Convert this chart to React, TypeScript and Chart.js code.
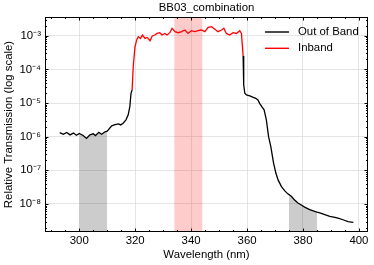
import React, { useEffect, useRef } from 'react';
import { Chart, registerables } from 'chart.js';

Chart.register(...registerables);

// ---- data ----
const lowWavelength = [293.0, 294.3, 295.5, 296.7, 297.9, 299.0, 300.0, 301.4, 302.6, 303.8, 305.0, 305.8, 307.0, 308.0, 309.2, 310.0, 311.6, 312.8, 314.0, 314.8, 315.7, 316.7, 317.5, 318.1, 318.5, 318.9];
const lowTransmission = [1.32e-6, 1.18e-6, 1.34e-6, 1.13e-6, 1.28e-6, 1.1e-6, 1.25e-6, 1.08e-6, 8.9e-7, 1.14e-6, 1.22e-6, 1.08e-6, 1.34e-6, 1.18e-6, 1.4e-6, 1.45e-6, 2.09e-6, 2.29e-6, 2.4e-6, 2.24e-6, 2.51e-6, 3.16e-6, 4.47e-6, 7.94e-6, 1.95e-5, 2.45e-5];

const inbandWavelength = [318.9, 319.3, 319.9, 320.5, 321.1, 321.9, 322.6, 323.5, 324.3, 325.3, 326.1, 327.0, 327.8, 328.8, 329.6, 330.6, 331.4, 332.4, 333.2, 334.2, 335.4, 336.6, 337.8, 338.9, 340.1, 341.3, 342.5, 343.7, 344.9, 346.1, 347.3, 348.5, 349.6, 350.9, 351.7, 352.6, 353.8, 355.0, 356.2, 357.4, 358.0, 358.6];
const inbandTransmission = [2.45e-5, 1.2e-4, 4.5e-4, 7.4e-4, 9.3e-4, 8.3e-4, 1.05e-3, 8.3e-4, 8.9e-4, 7.1e-4, 9.8e-4, 1.05e-3, 1.17e-3, 1.23e-3, 1.05e-3, 1.17e-3, 1.05e-3, 1.23e-3, 1.66e-3, 1.32e-3, 1.23e-3, 1.32e-3, 1.48e-3, 1.17e-3, 1.41e-3, 1.32e-3, 1.41e-3, 1.48e-3, 1.32e-3, 1.78e-3, 1.86e-3, 1.55e-3, 1.32e-3, 1.48e-3, 1.66e-3, 1.17e-3, 1.05e-3, 1.23e-3, 1.17e-3, 1.41e-3, 1.17e-3, 2.5e-4];

const highWavelength = [358.6, 358.8, 359.2, 359.8, 361.0, 362.2, 363.1, 363.9, 364.5, 365.4, 366.1, 366.9, 367.7, 368.5, 368.9, 369.5, 370.3, 371.1, 372.3, 373.5, 374.6, 375.0, 375.9, 377.0, 378.2, 379.4, 380.6, 382.4, 384.2, 385.0, 386.0, 387.8, 389.6, 391.4, 392.5, 394.3, 396.1, 397.3, 398.0];
const highTransmission = [2.5e-4, 3.5e-5, 1.95e-5, 1.74e-5, 1.62e-5, 1.48e-5, 1.38e-5, 1.23e-5, 9.8e-6, 7.6e-6, 6.3e-6, 3.16e-6, 1.0e-6, 5.1e-7, 3.2e-7, 1.62e-7, 8.3e-8, 5.2e-8, 3.3e-8, 2.45e-8, 2.0e-8, 1.9e-8, 1.66e-8, 1.32e-8, 1.07e-8, 9.3e-9, 8.1e-9, 6.8e-9, 6.0e-9, 5.7e-9, 5.4e-9, 4.8e-9, 4.3e-9, 4.0e-9, 3.8e-9, 3.4e-9, 3.0e-9, 2.9e-9, 2.85e-9];

const grayBandStarts = [300, 375];
const grayBandEnds = [310, 385];
const pinkBandStart = 334;
const pinkBandEnd = 344;

const xMajorTicks = [300, 320, 340, 360, 380, 400];
const xMinorStep = 5;
const yMajorTicks = [1e-8, 1e-7, 1e-6, 1e-5, 1e-4, 1e-3];
const yTickLabels = ['10⁻⁸', '10⁻⁷', '10⁻⁶', '10⁻⁵', '10⁻⁴', '10⁻³'];

const titleText = 'BB03_combination';
const xTitle = 'Wavelength (nm)';
const yTitle = 'Relative Transmission (log scale)';
const legendLabels = ['Out of Band', 'Inband'];
const legendColors = ['#000000', '#ff0000'];

const FONT = 'Liberation Sans, Arial, Helvetica, sans-serif';
const FS = 11.4;

const toPoints = (xs: number[], ys: number[]) => xs.map((x, i) => ({ x, y: ys[i] }));

export default function App() {
  const canvasRef = useRef<HTMLCanvasElement | null>(null);

  useEffect(() => {
    if (!canvasRef.current) return;
    const low = toPoints(lowWavelength, lowTransmission);
    const inband = toPoints(inbandWavelength, inbandTransmission);
    const high = toPoints(highWavelength, highTransmission);
    const all = [...low, ...inband, ...high];
    const oob: any[] = [...low, { x: 338, y: null }, ...high];

    const fillSets = grayBandStarts.map((s, i) => ({
      label: 'band' + i,
      data: all.filter((p) => p.x >= s && p.x <= grayBandEnds[i]),
      borderWidth: 0,
      pointRadius: 0,
      backgroundColor: 'rgba(0,0,0,0.2)',
      fill: 'start',
    }));

    const framePlugin = {
      id: 'frame',
      beforeDatasetsDraw(chart: any) {
        const { ctx, chartArea, scales } = chart;
        const x1 = scales.x.getPixelForValue(pinkBandStart);
        const x2 = scales.x.getPixelForValue(pinkBandEnd);
        ctx.save();
        ctx.fillStyle = 'rgba(255,0,0,0.2)';
        ctx.fillRect(x1, chartArea.top, x2 - x1, chartArea.bottom - chartArea.top);
        ctx.restore();
      },
      afterDatasetsDraw(chart: any) {
        const { ctx, chartArea, scales } = chart;
        const { left, right, top, bottom } = chartArea;
        ctx.save();
        ctx.strokeStyle = '#000';
        ctx.lineWidth = 1;
        ctx.strokeRect(left + 0.5, top + 0.5, right - left - 1, bottom - top - 1);
        ctx.beginPath();
        const xs = scales.x;
        for (let v = Math.ceil(xs.min / xMinorStep) * xMinorStep; v <= xs.max; v += xMinorStep) {
          const px = Math.round(xs.getPixelForValue(v)) + 0.5;
          const len = xMajorTicks.includes(v) ? 3.5 : 2;
          ctx.moveTo(px, bottom);
          ctx.lineTo(px, bottom - len);
          ctx.moveTo(px, top);
          ctx.lineTo(px, top + len);
        }
        const ys = scales.y;
        for (let e = -10; e <= -2; e++) {
          for (let m = 1; m <= 9; m++) {
            const v = m * Math.pow(10, e);
            if (v < ys.min || v > ys.max) continue;
            const py = Math.round(ys.getPixelForValue(v)) + 0.5;
            const len = m === 1 ? 3.5 : 2;
            ctx.moveTo(left, py);
            ctx.lineTo(left + len, py);
            ctx.moveTo(right, py);
            ctx.lineTo(right - len, py);
          }
        }
        ctx.stroke();
        ctx.restore();
      },
      afterDraw(chart: any) {
        const { ctx, chartArea } = chart;
        ctx.save();
        ctx.fillStyle = '#000';
        ctx.font = `${FS}px ${FONT}`;
        ctx.textAlign = 'center';
        ctx.textBaseline = 'middle';
        ctx.fillText(titleText, (chartArea.left + chartArea.right) / 2, 8);
        ctx.textAlign = 'left';
        legendLabels.forEach((lab, i) => {
          const y = 32 + i * 16.3;
          ctx.strokeStyle = legendColors[i];
          ctx.lineWidth = 1.4;
          ctx.beginPath();
          ctx.moveTo(265, y);
          ctx.lineTo(289, y);
          ctx.stroke();
          ctx.fillText(lab, 298, y);
        });
        ctx.restore();
      },
    };

    const chart = new Chart(canvasRef.current, {
      type: 'line',
      data: {
        datasets: [
          { label: legendLabels[1], data: inband, borderColor: '#ff0000', borderWidth: 1.3, pointRadius: 0, fill: false, tension: 0 },
          { label: legendLabels[0], data: oob, borderColor: '#000000', borderWidth: 1.3, pointRadius: 0, fill: false, spanGaps: false, tension: 0 },
          ...fillSets,
        ] as any,
      },
      options: {
        animation: false,
        responsive: false,
        maintainAspectRatio: false,
        parsing: false as any,
        layout: { padding: { top: 17, right: 6, left: 0, bottom: 0 } },
        plugins: { legend: { display: false }, title: { display: false }, tooltip: { enabled: false } },
        scales: {
          x: {
            type: 'linear',
            min: 287.75,
            max: 403.25,
            afterBuildTicks: (s: any) => { s.ticks = xMajorTicks.map((v) => ({ value: v })); },
            afterFit: (s: any) => { s.height = 33; },
            ticks: { autoSkip: false, maxRotation: 0, padding: 2, color: '#000', font: { family: FONT, size: FS }, callback: (v: any) => String(v) },
            grid: { color: '#dedede', lineWidth: 0.8, drawTicks: false },
            border: { display: false },
            title: { display: true, text: xTitle, color: '#000', font: { family: FONT, size: FS }, padding: { top: 0, bottom: 3 } },
          },
          y: {
            type: 'logarithmic',
            min: 1.47e-9,
            max: 3.6e-3,
            afterBuildTicks: (s: any) => { s.ticks = yMajorTicks.map((v) => ({ value: v })); },
            afterFit: (s: any) => { s.width = 45; },
            ticks: { autoSkip: false, padding: 4, color: '#000', font: { family: FONT, size: FS }, callback: (_v: any, i: number) => yTickLabels[i] },
            grid: { color: '#dedede', lineWidth: 0.8, drawTicks: false },
            border: { display: false },
            title: { display: true, text: yTitle, color: '#000', font: { family: FONT, size: FS }, padding: { top: 2, bottom: 0 } },
          },
        },
      } as any,
      plugins: [framePlugin],
    });
    return () => chart.destroy();
  }, []);

  return (
    <div style={{ position: 'absolute', left: 0, top: 0, width: 374, height: 265 }}>
      <canvas ref={canvasRef} width={374} height={265} style={{ display: 'block', width: 374, height: 265 }} />
    </div>
  );
}
